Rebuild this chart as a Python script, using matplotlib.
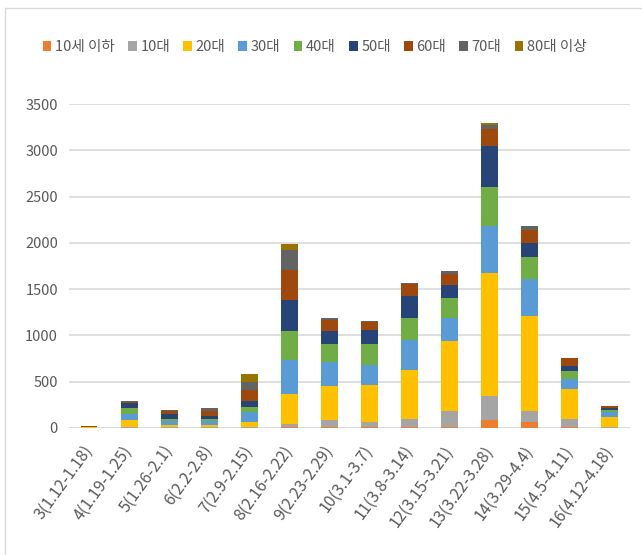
import matplotlib
matplotlib.use("Agg")
import matplotlib.pyplot as plt
import numpy as np

plt.rcParams['font.family'] = ['Noto Sans CJK KR', 'DejaVu Sans']

# 주차(기간)
weeks = ['3(1.12-1.18)', '4(1.19-1.25)', '5(1.26-2.1)', '6(2.2-2.8)', '7(2.9-2.15)',
         '8(2.16-2.22)', '9(2.23-2.29)', '10(3.1-3.7)', '11(3.8-3.14)', '12(3.15-3.21)',
         '13(3.22-3.28)', '14(3.29-4.4)', '15(4.5-4.11)', '16(4.12-4.18)']

age_groups = ['10세 이하', '10대', '20대', '30대', '40대', '50대', '60대', '70대', '80대 이상']

under10 = [0, 2, 2, 2, 2, 5, 10, 5, 10, 15, 83, 65, 15, 2]
teens = [3, 8, 8, 10, 8, 42, 73, 60, 91, 165, 259, 119, 79, 10]
twenties = [3, 75, 25, 15, 55, 324, 367, 396, 530, 761, 1334, 1023, 331, 107]
thirties = [2, 70, 40, 50, 108, 361, 264, 217, 317, 252, 504, 397, 108, 54]
forties = [2, 65, 25, 20, 54, 317, 191, 227, 245, 216, 426, 245, 83, 25]
fifties = [3, 50, 45, 30, 65, 338, 144, 151, 231, 133, 439, 144, 58, 22]
sixties = [6, 15, 35, 60, 115, 318, 115, 90, 129, 119, 181, 144, 86, 14]
seventies = [5, 3, 10, 25, 90, 216, 25, 7, 18, 33, 46, 47, 0, 0]
over80 = [1, 0, 0, 8, 90, 65, 0, 0, 0, 0, 26, 0, 0, 0]

series = [under10, teens, twenties, thirties, forties, fifties, sixties, seventies, over80]
colors = ['#ED7D31', '#A5A5A5', '#FFC000', '#5B9BD5', '#70AD47',
          '#264478', '#9E480E', '#636363', '#997300']

fig = plt.figure(figsize=(6.42, 5.55), dpi=100)
ax = fig.add_axes([0.1075, 0.229, 0.8735, 0.5836])

x = np.arange(len(weeks))
bottom = np.zeros(len(weeks))
for name, vals, c in zip(age_groups, series, colors):
    ax.bar(x, vals, 0.42, bottom=bottom, color=c, label=name, zorder=3)
    bottom += np.array(vals)

ax.set_ylim(0, 3500)
ax.set_xlim(-0.5, 13.5)
ax.set_yticks(range(0, 3501, 500))
ax.yaxis.grid(True, color='#D9D9D9', linewidth=1.2, zorder=0)
ax.set_axisbelow(True)
for s in ax.spines.values():
    s.set_visible(False)
ax.axhline(0, color='#D9D9D9', linewidth=1.2, zorder=1)

ax.set_xticks(x)
ax.set_xticklabels(weeks, rotation=54, ha='right', va='center', rotation_mode='anchor')
ax.tick_params(axis='both', length=0, labelsize=10.5, colors='#595959')
ax.tick_params(axis='x', pad=14, labelsize=11.5)
ax.tick_params(axis='y', pad=8)

fig.legend(loc='center', bbox_to_anchor=(0.49, 0.915), ncol=9, frameon=False,
           fontsize=10.5, handlelength=0.6, handleheight=0.6, handletextpad=0.25,
           columnspacing=0.9, labelcolor='#595959')

# 차트 테두리
fig.patches.append(plt.Rectangle((5 / 642, -0.1), 1.2, 1 - 8 / 555 + 0.1,
                                 transform=fig.transFigure, fill=False,
                                 edgecolor='#D9D9D9', linewidth=1))

fig.savefig('out.png', dpi=100)
